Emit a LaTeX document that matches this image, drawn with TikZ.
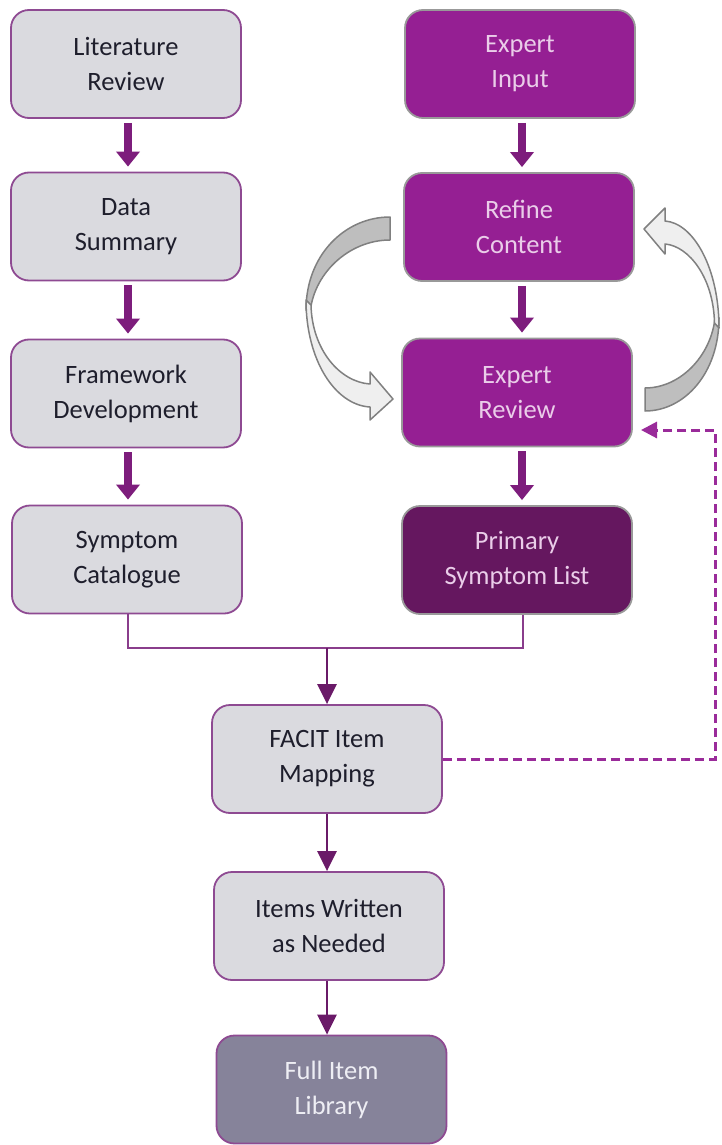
\documentclass[tikz,border=0pt]{standalone}
\usepackage{fontspec}
\setmainfont{Carlito}
\usetikzlibrary{arrows.meta,calc}
\definecolor{gfill}{HTML}{DADADF}
\definecolor{gline}{HTML}{8E4A92}
\definecolor{gtext}{HTML}{1E1E2C}
\definecolor{pfill}{HTML}{951F93}
\definecolor{ptext}{HTML}{EACDE9}
\definecolor{dfill}{HTML}{65175F}
\definecolor{ffill}{HTML}{86839A}
\definecolor{ftext}{HTML}{EEEEF4}
\definecolor{bline}{HTML}{808080}
\definecolor{arrowc}{HTML}{7D1D7C}
\definecolor{thinc}{HTML}{6A1A68}
\definecolor{mergec}{HTML}{8A3D8C}
\definecolor{dashc}{HTML}{9A2B9A}
\definecolor{cdark}{HTML}{BEBEBE}
\definecolor{clight}{HTML}{EFEFEF}
\begin{document}
\begin{tikzpicture}[x=1pt,y=-1pt,
  box/.style={rounded corners=18pt, minimum width=230pt, minimum height=108pt,
    inner sep=0pt, align=center, line width=1.8pt,
    font=\fontsize{26.5}{35}\selectfont},
  gbox/.style={box, fill=gfill, draw=gline, text=gtext},
  pbox/.style={box, fill=pfill, draw=bline!80, text=ptext},
  dbox/.style={box, fill=dfill, draw=bline!80, text=ptext},
  fbox/.style={box, fill=ffill, draw=gline, text=ftext},
  barrow/.style={draw=arrowc, line width=8pt, -{Triangle[width=23pt,length=15pt]}},
  tarrow/.style={draw=thinc, line width=2.5pt, -{Triangle[width=19pt,length=20pt]}},
  mline/.style={draw=mergec, line width=2pt},
  dline/.style={draw=dashc, line width=3pt, dash pattern=on 9pt off 5pt,
    -{Triangle[width=16pt,length=16pt]}},
  curv/.style={draw=bline, line width=1.5pt, line join=round}
]
\useasboundingbox (0,0) rectangle (721,1145);

% left column
\node[gbox] (lr) at (126,64) {Literature\\Review};
\node[gbox] (ds) at (126,226.5) {Data\\Summary};
\node[gbox] (fd) at (126,393.5) {Framework\\Development};
\node[gbox] (sc) at (127,559.5) {Symptom\\Catalogue};

% right column
\node[pbox] (ei) at (520,64) {Expert\\Input};
\node[pbox] (rc) at (519,227) {Refine\\Content};
\node[pbox] (er) at (517,392.5) {Expert\\Review};
\node[dbox] (psl) at (517,560) {Primary\\Symptom List};

% bottom column
\node[gbox] (fm) at (327,759) {FACIT Item\\Mapping};
\node[gbox] (iw) at (329,926) {Items Written\\as Needed};
\node[fbox] (fl) at (331.5,1089.5) {Full Item\\Library};

% block arrows
\draw[barrow] ($(lr.south)+(2,4)$) -- ($(ds.north)+(2,-5)$);
\draw[barrow] ($(ds.south)+(2,4)$) -- ($(fd.north)+(2,-5)$);
\draw[barrow] ($(fd.south)+(2,4)$) -- ($(sc.north)+(1,-5)$);
\draw[barrow] ($(ei.south)+(2,4)$) -- ($(rc.north)+(3,-5)$);
\draw[barrow] ($(rc.south)+(3,4)$) -- ($(er.north)+(5,-5)$);
\draw[barrow] ($(er.south)+(5,4)$) -- ($(psl.north)+(5,-5)$);

% merge connector
\coordinate (j) at (327,648);
\draw[mline] ($(sc.south)+(1,0)$) |- (j) -| ($(psl.south)+(6,0)$);
\draw[tarrow] (j) -- (fm.north);
\draw[tarrow] (fm.south) -- (fm.south |- iw.north);
\draw[tarrow] (iw.south -| fm.south) -- (fm.south |- fl.north);

% dashed feedback
\coordinate (dc) at (715,430);
\coordinate (de) at (641,430);
\draw[dline] (fm.east) -| (dc) -- (de);

% left curved arrow
\draw[curv, fill=cdark] (390,217) .. controls (345,217) and (306,255) .. (306,310)
  -- (310,315) .. controls (312,275) and (348,240) .. (390,240) -- cycle;
\draw[curv, fill=clight] (306,300) .. controls (306,360) and (335,405) .. (370,407)
  -- (370,420) -- (393,399) -- (370,372) -- (370,384)
  .. controls (340,382) and (312,350) .. (311,305) -- cycle;

% right curved arrow
\draw[curv, fill=cdark] (645,411) .. controls (684.6,411) and (719,373) .. (719,318)
  -- (715.4,313) .. controls (713.6,353) and (682,388) .. (645,388) -- cycle;
\draw[curv, fill=clight] (719,328) .. controls (719,268) and (693.4,223) .. (665,221)
  -- (665,208) -- (644,229) -- (665,254) -- (665,244)
  .. controls (689,246) and (713.6,278) .. (714.5,323) -- cycle;
\end{tikzpicture}
\end{document}
